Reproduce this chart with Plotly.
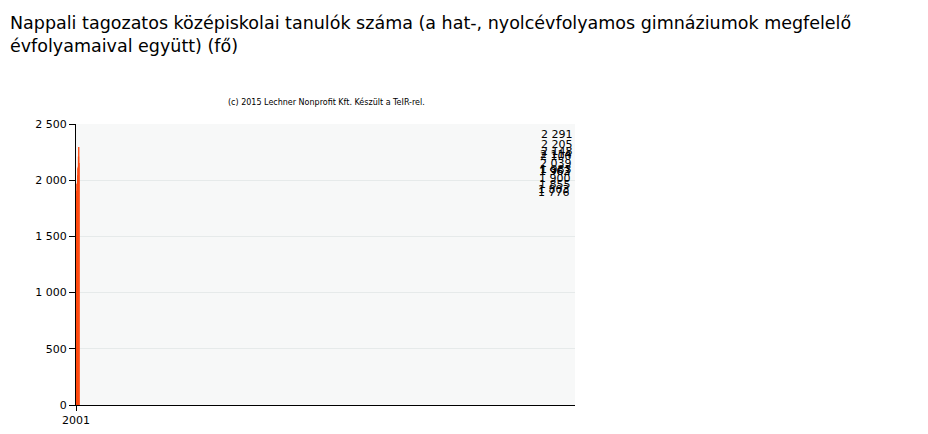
import plotly.graph_objects as go

years = ["2001","2002","2003","2004","2005","2006","2007","2008","2009","2010","2011","2012","2013"]
values = [1776,1803,1855,1900,1963,1962,1983,2039,2100,2114,2205,2291,2148]
labels = [f"{v:,}".replace(",", " ") for v in values]

fig = go.Figure(go.Bar(
    x=years, y=values,
    marker=dict(color="#FFA27C", line=dict(color="#FF4A10", width=1.2)),
    width=0.6,
))
ann = [
    dict(text="Nappali tagozatos középiskolai tanulók száma (a hat-, nyolcévfolyamos gimnáziumok megfelelő<br>évfolyamaival együtt) (fő)",
         x=-68/499, y=1+(116-3)/281, xref="paper", yref="paper", xanchor="left", yanchor="top",
         align="left", showarrow=False, font=dict(size=17.5)),
    dict(text="(c) 2015 Lechner Nonprofit Kft. Készült a TeIR-rel.", x=(318-68)/499, y=1+(116-87)/281,
         xref="paper", yref="paper", showarrow=False, font=dict(size=8)),
]
for yr, v, t in zip(years, values, labels):
    ann.append(dict(x=yr, y=v, text=t, showarrow=False, yanchor="bottom", yshift=4,
                    font=dict(size=11, color="black")))
fig.update_layout(
    width=928, height=434,
    margin=dict(l=68, r=361, t=116, b=37, autoexpand=False),
    paper_bgcolor="white", plot_bgcolor="#f7f8f8",
    font=dict(family="DejaVu Sans", size=11, color="black"),
    showlegend=False, annotations=ann, separators=". ",
)
fig.update_xaxes(showgrid=True, gridcolor="#e6eaea", showline=True, linecolor="black",
                 ticks="outside", tickcolor="black", ticklen=5, automargin=False)
fig.update_yaxes(range=[0,2500], dtick=500, tickformat=",",
                 showgrid=True, gridcolor="#e6eaea", showline=True, linecolor="black",
                 ticks="outside", tickcolor="black", ticklen=6, zeroline=False, automargin=False)
fig.write_html("out.html")
